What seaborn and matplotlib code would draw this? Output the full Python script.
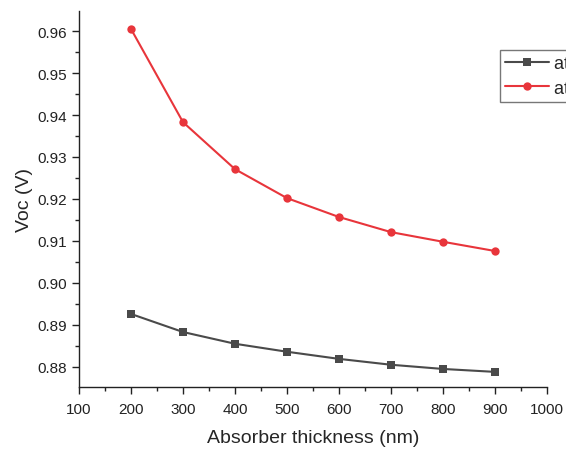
import numpy as np
import pandas as pd
import matplotlib
matplotlib.use("Agg")
import matplotlib.pyplot as plt
from matplotlib.ticker import MultipleLocator
import seaborn as sns

thickness = [200, 300, 400, 500, 600, 700, 800, 900]
voc_black = [0.8926, 0.8883, 0.8855, 0.8836, 0.8819, 0.8805, 0.8795, 0.8788]
voc_red = [0.9605, 0.9383, 0.9271, 0.9202, 0.9157, 0.9121, 0.9098, 0.9076]
labels = ["at 300 K", "at 0 K"]

df = pd.DataFrame({
    "x": thickness * 2,
    "y": voc_black + voc_red,
    "series": [labels[0]] * len(thickness) + [labels[1]] * len(thickness),
})

sns.set_theme(style="ticks")
plt.rcParams["font.family"] = ["Liberation Sans", "DejaVu Sans"]

fig = plt.figure(figsize=(5.66, 4.52), dpi=100)
ax = fig.add_axes([0.1396, 0.1416, 0.8268, 0.832])

sns.lineplot(data=df, x="x", y="y", hue="series", style="series",
             palette={labels[0]: "#4a4a4a", labels[1]: "#e8353b"},
             markers={labels[0]: "s", labels[1]: "o"}, dashes=False,
             markersize=6, markeredgewidth=0, linewidth=1.5, ax=ax, legend=True)

ax.set_xlim(100, 1000)
ax.set_ylim(0.8752, 0.9648)
ax.xaxis.set_major_locator(MultipleLocator(100))
ax.xaxis.set_minor_locator(MultipleLocator(50))
ax.yaxis.set_major_locator(MultipleLocator(0.01))
ax.yaxis.set_minor_locator(MultipleLocator(0.005))
ax.yaxis.set_major_formatter(matplotlib.ticker.FormatStrFormatter("%.2f"))
ax.tick_params(which="major", direction="out", length=5, width=1, labelsize=11,
               colors="#222222", pad=4)
ax.tick_params(axis="x", which="major", pad=6)
ax.tick_params(which="minor", direction="out", length=3, width=1, colors="#222222")
for s in ["top", "right"]:
    ax.spines[s].set_visible(False)
for s in ["left", "bottom"]:
    ax.spines[s].set_linewidth(1.0)
    ax.spines[s].set_color("#222222")
ax.set_xlabel("Absorber thickness (nm)", fontsize=14, labelpad=9)
ax.set_ylabel("Voc (V)", fontsize=14, labelpad=3)

handles, labs = ax.get_legend_handles_labels()
ax.get_legend().remove()
leg = fig.legend(handles, labs, loc="upper left", bbox_to_anchor=(0.883, 0.887),
                 borderaxespad=0, frameon=True, fancybox=False, fontsize=13,
                 handlelength=2.4, borderpad=0.3, labelspacing=0.4, handletextpad=0.3)
leg.get_frame().set_edgecolor("#555555")
leg.get_frame().set_linewidth(1.0)

fig.savefig("out.png", dpi=100)
